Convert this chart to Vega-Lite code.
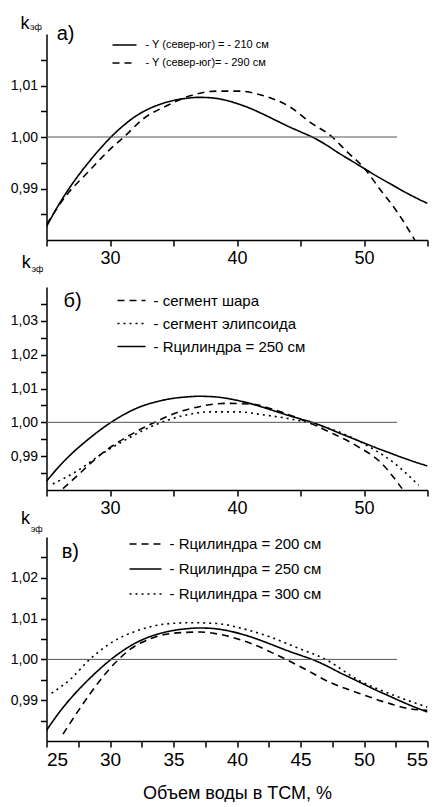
{
  "$schema": "https://vega.github.io/schema/vega-lite/v6.json",
  "background": "white",
  "padding": {"left": 9.5, "top": 14, "right": 4, "bottom": 0},
  "bounds": "flush",
  "spacing": 47,
  "resolve": {"scale": {"strokeDash": "independent"}, "legend": {"strokeDash": "independent"}},
  "config": {
    "view": {"stroke": null},
    "font": "Liberation Sans Narrow, Liberation Sans, sans-serif",
    "axis": {"grid": false, "domainColor": "black", "domainWidth": 1.5, "tickColor": "black", "tickWidth": 1.5, "labelColor": "black", "labelFont": "Liberation Sans Narrow, Liberation Sans, sans-serif", "titleFont": "Liberation Sans Narrow, Liberation Sans, sans-serif", "titleColor": "black", "titleFontWeight": "normal"},
    "legend": {"labelFont": "Liberation Sans Narrow, Liberation Sans, sans-serif", "labelColor": "black", "symbolType": "stroke", "symbolStrokeColor": "black", "symbolStrokeWidth": 1.6, "padding": 0, "labelLimit": 400},
    "text": {"font": "Liberation Sans, sans-serif", "color": "black", "align": "left", "baseline": "alphabetic"}
  },
  "datasets": {
    "curves": [
      {"p": "a", "s": "- Y (север-юг) = - 210 см", "x": 25, "y": 0.9826},
      {"p": "a", "s": "- Y (север-юг) = - 210 см", "x": 26, "y": 0.9870},
      {"p": "a", "s": "- Y (север-юг) = - 210 см", "x": 27, "y": 0.9908},
      {"p": "a", "s": "- Y (север-юг) = - 210 см", "x": 28, "y": 0.9941},
      {"p": "a", "s": "- Y (север-юг) = - 210 см", "x": 29, "y": 0.9971},
      {"p": "a", "s": "- Y (север-юг) = - 210 см", "x": 30, "y": 0.9998},
      {"p": "a", "s": "- Y (север-юг) = - 210 см", "x": 31, "y": 1.0021},
      {"p": "a", "s": "- Y (север-юг) = - 210 см", "x": 32, "y": 1.0040},
      {"p": "a", "s": "- Y (север-юг) = - 210 см", "x": 33, "y": 1.0054},
      {"p": "a", "s": "- Y (север-юг) = - 210 см", "x": 34, "y": 1.0064},
      {"p": "a", "s": "- Y (север-юг) = - 210 см", "x": 35, "y": 1.0071},
      {"p": "a", "s": "- Y (север-юг) = - 210 см", "x": 36, "y": 1.0075},
      {"p": "a", "s": "- Y (север-юг) = - 210 см", "x": 37, "y": 1.0077},
      {"p": "a", "s": "- Y (север-юг) = - 210 см", "x": 38, "y": 1.0076},
      {"p": "a", "s": "- Y (север-юг) = - 210 см", "x": 39, "y": 1.0072},
      {"p": "a", "s": "- Y (север-юг) = - 210 см", "x": 40, "y": 1.0065},
      {"p": "a", "s": "- Y (север-юг) = - 210 см", "x": 41, "y": 1.0056},
      {"p": "a", "s": "- Y (север-юг) = - 210 см", "x": 42, "y": 1.0045},
      {"p": "a", "s": "- Y (север-юг) = - 210 см", "x": 43, "y": 1.0033},
      {"p": "a", "s": "- Y (север-юг) = - 210 см", "x": 44, "y": 1.0021},
      {"p": "a", "s": "- Y (север-юг) = - 210 см", "x": 45, "y": 1.0010},
      {"p": "a", "s": "- Y (север-юг) = - 210 см", "x": 46, "y": 0.9999},
      {"p": "a", "s": "- Y (север-юг) = - 210 см", "x": 47, "y": 0.9985},
      {"p": "a", "s": "- Y (север-юг) = - 210 см", "x": 48, "y": 0.9969},
      {"p": "a", "s": "- Y (север-юг) = - 210 см", "x": 49, "y": 0.9954},
      {"p": "a", "s": "- Y (север-юг) = - 210 см", "x": 50, "y": 0.9939},
      {"p": "a", "s": "- Y (север-юг) = - 210 см", "x": 51, "y": 0.9924},
      {"p": "a", "s": "- Y (север-юг) = - 210 см", "x": 52, "y": 0.9910},
      {"p": "a", "s": "- Y (север-юг) = - 210 см", "x": 53, "y": 0.9896},
      {"p": "a", "s": "- Y (север-юг) = - 210 см", "x": 54, "y": 0.9883},
      {"p": "a", "s": "- Y (север-юг) = - 210 см", "x": 55, "y": 0.9871},

      {"p": "a", "s": "- Y (север-юг)= - 290 см", "x": 25, "y": 0.9830},
      {"p": "a", "s": "- Y (север-юг)= - 290 см", "x": 26.6, "y": 0.9888},
      {"p": "a", "s": "- Y (север-юг)= - 290 см", "x": 28.2, "y": 0.9930},
      {"p": "a", "s": "- Y (север-юг)= - 290 см", "x": 30, "y": 0.9976},
      {"p": "a", "s": "- Y (север-юг)= - 290 см", "x": 31.1, "y": 1.0000},
      {"p": "a", "s": "- Y (север-юг)= - 290 см", "x": 32.6, "y": 1.0035},
      {"p": "a", "s": "- Y (север-юг)= - 290 см", "x": 34.5, "y": 1.0061},
      {"p": "a", "s": "- Y (север-юг)= - 290 см", "x": 36.3, "y": 1.0080},
      {"p": "a", "s": "- Y (север-юг)= - 290 см", "x": 38.4, "y": 1.0089},
      {"p": "a", "s": "- Y (север-юг)= - 290 см", "x": 40.2, "y": 1.0089},
      {"p": "a", "s": "- Y (север-юг)= - 290 см", "x": 42.1, "y": 1.0080},
      {"p": "a", "s": "- Y (север-юг)= - 290 см", "x": 44.2, "y": 1.0058},
      {"p": "a", "s": "- Y (север-юг)= - 290 см", "x": 45.8, "y": 1.0028},
      {"p": "a", "s": "- Y (север-юг)= - 290 см", "x": 47.5, "y": 1.0000},
      {"p": "a", "s": "- Y (север-юг)= - 290 см", "x": 48.6, "y": 0.9973},
      {"p": "a", "s": "- Y (север-юг)= - 290 см", "x": 50, "y": 0.9940},
      {"p": "a", "s": "- Y (север-юг)= - 290 см", "x": 51.3, "y": 0.9897},
      {"p": "a", "s": "- Y (север-юг)= - 290 см", "x": 52.6, "y": 0.9855},
      {"p": "a", "s": "- Y (север-юг)= - 290 см", "x": 54, "y": 0.9800},

      {"p": "b", "s": "- сегмент шара", "x": 26.3, "y": 0.9804},
      {"p": "b", "s": "- сегмент шара", "x": 27.5, "y": 0.9845},
      {"p": "b", "s": "- сегмент шара", "x": 28.5, "y": 0.9880},
      {"p": "b", "s": "- сегмент шара", "x": 29.5, "y": 0.9912},
      {"p": "b", "s": "- сегмент шара", "x": 30.5, "y": 0.9938},
      {"p": "b", "s": "- сегмент шара", "x": 31.6, "y": 0.9963},
      {"p": "b", "s": "- сегмент шара", "x": 33.4, "y": 0.9998},
      {"p": "b", "s": "- сегмент шара", "x": 35.3, "y": 1.0029},
      {"p": "b", "s": "- сегмент шара", "x": 37.1, "y": 1.0047},
      {"p": "b", "s": "- сегмент шара", "x": 39, "y": 1.0056},
      {"p": "b", "s": "- сегмент шара", "x": 41.1, "y": 1.0054},
      {"p": "b", "s": "- сегмент шара", "x": 43.2, "y": 1.0034},
      {"p": "b", "s": "- сегмент шара", "x": 45.3, "y": 1.0005},
      {"p": "b", "s": "- сегмент шара", "x": 47.3, "y": 0.9971},
      {"p": "b", "s": "- сегмент шара", "x": 49.4, "y": 0.9931},
      {"p": "b", "s": "- сегмент шара", "x": 51.3, "y": 0.9882},
      {"p": "b", "s": "- сегмент шара", "x": 53, "y": 0.9804},

      {"p": "b", "s": "- сегмент элипсоида", "x": 25.5, "y": 0.9818},
      {"p": "b", "s": "- сегмент элипсоида", "x": 27.4, "y": 0.9856},
      {"p": "b", "s": "- сегмент элипсоида", "x": 29.2, "y": 0.9903},
      {"p": "b", "s": "- сегмент элипсоида", "x": 31.3, "y": 0.9950},
      {"p": "b", "s": "- сегмент элипсоида", "x": 33.4, "y": 0.9990},
      {"p": "b", "s": "- сегмент элипсоида", "x": 35.8, "y": 1.0020},
      {"p": "b", "s": "- сегмент элипсоида", "x": 37.9, "y": 1.0031},
      {"p": "b", "s": "- сегмент элипсоида", "x": 40, "y": 1.0031},
      {"p": "b", "s": "- сегмент элипсоида", "x": 42.1, "y": 1.0022},
      {"p": "b", "s": "- сегмент элипсоида", "x": 44.2, "y": 1.0010},
      {"p": "b", "s": "- сегмент элипсоида", "x": 46, "y": 0.9995},
      {"p": "b", "s": "- сегмент элипсоида", "x": 48.4, "y": 0.9966},
      {"p": "b", "s": "- сегмент элипсоида", "x": 50.5, "y": 0.9926},
      {"p": "b", "s": "- сегмент элипсоида", "x": 52.6, "y": 0.9873},
      {"p": "b", "s": "- сегмент элипсоида", "x": 54.3, "y": 0.9814},

      {"p": "b", "s": "- Rцилиндра = 250 см", "x": 25, "y": 0.9826},
      {"p": "b", "s": "- Rцилиндра = 250 см", "x": 26, "y": 0.9870},
      {"p": "b", "s": "- Rцилиндра = 250 см", "x": 27, "y": 0.9908},
      {"p": "b", "s": "- Rцилиндра = 250 см", "x": 28, "y": 0.9941},
      {"p": "b", "s": "- Rцилиндра = 250 см", "x": 29, "y": 0.9971},
      {"p": "b", "s": "- Rцилиндра = 250 см", "x": 30, "y": 0.9998},
      {"p": "b", "s": "- Rцилиндра = 250 см", "x": 31, "y": 1.0021},
      {"p": "b", "s": "- Rцилиндра = 250 см", "x": 32, "y": 1.0040},
      {"p": "b", "s": "- Rцилиндра = 250 см", "x": 33, "y": 1.0054},
      {"p": "b", "s": "- Rцилиндра = 250 см", "x": 34, "y": 1.0064},
      {"p": "b", "s": "- Rцилиндра = 250 см", "x": 35, "y": 1.0071},
      {"p": "b", "s": "- Rцилиндра = 250 см", "x": 36, "y": 1.0075},
      {"p": "b", "s": "- Rцилиндра = 250 см", "x": 37, "y": 1.0077},
      {"p": "b", "s": "- Rцилиндра = 250 см", "x": 38, "y": 1.0076},
      {"p": "b", "s": "- Rцилиндра = 250 см", "x": 39, "y": 1.0072},
      {"p": "b", "s": "- Rцилиндра = 250 см", "x": 40, "y": 1.0065},
      {"p": "b", "s": "- Rцилиндра = 250 см", "x": 41, "y": 1.0056},
      {"p": "b", "s": "- Rцилиндра = 250 см", "x": 42, "y": 1.0045},
      {"p": "b", "s": "- Rцилиндра = 250 см", "x": 43, "y": 1.0033},
      {"p": "b", "s": "- Rцилиндра = 250 см", "x": 44, "y": 1.0021},
      {"p": "b", "s": "- Rцилиндра = 250 см", "x": 45, "y": 1.0010},
      {"p": "b", "s": "- Rцилиндра = 250 см", "x": 46, "y": 0.9999},
      {"p": "b", "s": "- Rцилиндра = 250 см", "x": 47, "y": 0.9985},
      {"p": "b", "s": "- Rцилиндра = 250 см", "x": 48, "y": 0.9969},
      {"p": "b", "s": "- Rцилиндра = 250 см", "x": 49, "y": 0.9954},
      {"p": "b", "s": "- Rцилиндра = 250 см", "x": 50, "y": 0.9939},
      {"p": "b", "s": "- Rцилиндра = 250 см", "x": 51, "y": 0.9924},
      {"p": "b", "s": "- Rцилиндра = 250 см", "x": 52, "y": 0.9910},
      {"p": "b", "s": "- Rцилиндра = 250 см", "x": 53, "y": 0.9896},
      {"p": "b", "s": "- Rцилиндра = 250 см", "x": 54, "y": 0.9883},
      {"p": "b", "s": "- Rцилиндра = 250 см", "x": 55, "y": 0.9871},

      {"p": "c", "s": "- Rцилиндра = 200 см", "x": 26.3, "y": 0.9817},
      {"p": "c", "s": "- Rцилиндра = 200 см", "x": 27.7, "y": 0.9883},
      {"p": "c", "s": "- Rцилиндра = 200 см", "x": 29, "y": 0.9940},
      {"p": "c", "s": "- Rцилиндра = 200 см", "x": 30.3, "y": 0.9988},
      {"p": "c", "s": "- Rцилиндра = 200 см", "x": 31.6, "y": 1.0025},
      {"p": "c", "s": "- Rцилиндра = 200 см", "x": 33.4, "y": 1.0053},
      {"p": "c", "s": "- Rцилиндра = 200 см", "x": 35.3, "y": 1.0065},
      {"p": "c", "s": "- Rцилиндра = 200 см", "x": 37.1, "y": 1.0067},
      {"p": "c", "s": "- Rцилиндра = 200 см", "x": 39, "y": 1.0059},
      {"p": "c", "s": "- Rцилиндра = 200 см", "x": 41.1, "y": 1.0039},
      {"p": "c", "s": "- Rцилиндра = 200 см", "x": 43.2, "y": 1.0010},
      {"p": "c", "s": "- Rцилиндра = 200 см", "x": 45.3, "y": 0.9977},
      {"p": "c", "s": "- Rцилиндра = 200 см", "x": 47.3, "y": 0.9944},
      {"p": "c", "s": "- Rцилиндра = 200 см", "x": 49.7, "y": 0.9916},
      {"p": "c", "s": "- Rцилиндра = 200 см", "x": 52.1, "y": 0.9891},
      {"p": "c", "s": "- Rцилиндра = 200 см", "x": 53.6, "y": 0.9879},
      {"p": "c", "s": "- Rцилиндра = 200 см", "x": 55, "y": 0.9875},

      {"p": "c", "s": "- Rцилиндра = 250 см", "x": 25, "y": 0.9826},
      {"p": "c", "s": "- Rцилиндра = 250 см", "x": 26, "y": 0.9870},
      {"p": "c", "s": "- Rцилиндра = 250 см", "x": 27, "y": 0.9908},
      {"p": "c", "s": "- Rцилиндра = 250 см", "x": 28, "y": 0.9941},
      {"p": "c", "s": "- Rцилиндра = 250 см", "x": 29, "y": 0.9971},
      {"p": "c", "s": "- Rцилиндра = 250 см", "x": 30, "y": 0.9998},
      {"p": "c", "s": "- Rцилиндра = 250 см", "x": 31, "y": 1.0021},
      {"p": "c", "s": "- Rцилиндра = 250 см", "x": 32, "y": 1.0040},
      {"p": "c", "s": "- Rцилиндра = 250 см", "x": 33, "y": 1.0054},
      {"p": "c", "s": "- Rцилиндра = 250 см", "x": 34, "y": 1.0064},
      {"p": "c", "s": "- Rцилиндра = 250 см", "x": 35, "y": 1.0071},
      {"p": "c", "s": "- Rцилиндра = 250 см", "x": 36, "y": 1.0075},
      {"p": "c", "s": "- Rцилиндра = 250 см", "x": 37, "y": 1.0077},
      {"p": "c", "s": "- Rцилиндра = 250 см", "x": 38, "y": 1.0076},
      {"p": "c", "s": "- Rцилиндра = 250 см", "x": 39, "y": 1.0072},
      {"p": "c", "s": "- Rцилиндра = 250 см", "x": 40, "y": 1.0065},
      {"p": "c", "s": "- Rцилиндра = 250 см", "x": 41, "y": 1.0056},
      {"p": "c", "s": "- Rцилиндра = 250 см", "x": 42, "y": 1.0045},
      {"p": "c", "s": "- Rцилиндра = 250 см", "x": 43, "y": 1.0033},
      {"p": "c", "s": "- Rцилиндра = 250 см", "x": 44, "y": 1.0021},
      {"p": "c", "s": "- Rцилиндра = 250 см", "x": 45, "y": 1.0010},
      {"p": "c", "s": "- Rцилиндра = 250 см", "x": 46, "y": 0.9999},
      {"p": "c", "s": "- Rцилиндра = 250 см", "x": 47, "y": 0.9985},
      {"p": "c", "s": "- Rцилиндра = 250 см", "x": 48, "y": 0.9969},
      {"p": "c", "s": "- Rцилиндра = 250 см", "x": 49, "y": 0.9954},
      {"p": "c", "s": "- Rцилиндра = 250 см", "x": 50, "y": 0.9939},
      {"p": "c", "s": "- Rцилиндра = 250 см", "x": 51, "y": 0.9924},
      {"p": "c", "s": "- Rцилиндра = 250 см", "x": 52, "y": 0.9910},
      {"p": "c", "s": "- Rцилиндра = 250 см", "x": 53, "y": 0.9896},
      {"p": "c", "s": "- Rцилиндра = 250 см", "x": 54, "y": 0.9883},
      {"p": "c", "s": "- Rцилиндра = 250 см", "x": 55, "y": 0.9871},

      {"p": "c", "s": "- Rцилиндра = 300 см", "x": 25.4, "y": 0.9917},
      {"p": "c", "s": "- Rцилиндра = 300 см", "x": 26.9, "y": 0.9952},
      {"p": "c", "s": "- Rцилиндра = 300 см", "x": 28.4, "y": 1.0000},
      {"p": "c", "s": "- Rцилиндра = 300 см", "x": 30, "y": 1.0039},
      {"p": "c", "s": "- Rцилиндра = 300 см", "x": 32.1, "y": 1.0070},
      {"p": "c", "s": "- Rцилиндра = 300 см", "x": 34.2, "y": 1.0086},
      {"p": "c", "s": "- Rцилиндра = 300 см", "x": 36.3, "y": 1.0090},
      {"p": "c", "s": "- Rцилиндра = 300 см", "x": 38.4, "y": 1.0088},
      {"p": "c", "s": "- Rцилиндра = 300 см", "x": 40.5, "y": 1.0075},
      {"p": "c", "s": "- Rцилиндра = 300 см", "x": 42.6, "y": 1.0055},
      {"p": "c", "s": "- Rцилиндра = 300 см", "x": 44.7, "y": 1.0029},
      {"p": "c", "s": "- Rцилиндра = 300 см", "x": 47.1, "y": 0.9998},
      {"p": "c", "s": "- Rцилиндра = 300 см", "x": 49.4, "y": 0.9952},
      {"p": "c", "s": "- Rцилиндра = 300 см", "x": 52.1, "y": 0.9915},
      {"p": "c", "s": "- Rцилиндра = 300 см", "x": 55, "y": 0.9883}
    ]
  },
  "vconcat": [
    {
      "width": 381,
      "height": 206,
      "resolve": {"axis": {"x": "independent", "y": "independent"}},
      "layer": [
        {
          "data": {"name": "curves"},
          "transform": [{"filter": "datum.p === 'a'"}],
          "mark": {"type": "line", "interpolate": "monotone", "color": "black", "strokeWidth": 1.6, "clip": true},
          "encoding": {
            "x": {"field": "x", "type": "quantitative", "scale": {"domain": [25, 55], "nice": false, "zero": false},
                  "axis": {"title": null, "orient": "bottom", "values": [25, 30, 35, 40, 45, 50, 55], "labelExpr": "datum.value % 10 === 0 ? datum.label : ''", "labelFontSize": 18, "tickSize": 6, "labelPadding": 3}},
            "y": {"field": "y", "type": "quantitative", "scale": {"domain": [0.98, 1.02], "nice": false, "zero": false},
                  "axis": {"title": null, "orient": "left", "values": [0.985, 0.99, 0.995, 1.0, 1.005, 1.01, 1.015], "labelExpr": "abs(datum.value*100 - round(datum.value*100)) < 0.001 ? replace(format(datum.value, '.2f'), '.', ',') : ''", "labelFontSize": 14, "tickSize": 6, "labelPadding": 3}},
            "strokeDash": {"field": "s", "type": "nominal",
                           "scale": {"domain": ["- Y (север-юг) = - 210 см", "- Y (север-юг)= - 290 см"], "range": [[1, 0], [7, 5]]},
                           "legend": {"title": null, "orient": "none", "legendX": 65, "legendY": -2, "symbolSize": 576, "labelFontSize": 11, "labelOffset": 8, "rowPadding": -7.5}}
          }
        },
        {
          "data": {"values": [{}]},
          "mark": {"type": "rule", "color": "#555555", "strokeWidth": 1},
          "encoding": {"x": {"datum": 25, "type": "quantitative", "scale": {"domain": [25, 55], "nice": false, "zero": false}, "axis": null}, "x2": {"datum": 52.6}, "y": {"datum": 1.0, "type": "quantitative", "scale": {"domain": [0.98, 1.02], "nice": false, "zero": false}, "axis": null}}
        },
        {
          "data": {"values": [{}]},
          "mark": {"type": "text", "fontSize": 20},
          "encoding": {"x": {"datum": 25.8, "type": "quantitative", "scale": {"domain": [25, 55], "nice": false, "zero": false}, "axis": null}, "y": {"datum": 1.0189, "type": "quantitative", "scale": {"domain": [0.98, 1.02], "nice": false, "zero": false}, "axis": null}, "text": {"value": "а)"}}
        },
        {
          "data": {"values": [{}]},
          "mark": {"type": "text", "fontSize": 18},
          "encoding": {"x": {"datum": 22.95, "type": "quantitative", "scale": {"domain": [25, 55], "nice": false, "zero": false}, "axis": null}, "y": {"datum": 1.0210, "type": "quantitative", "scale": {"domain": [0.98, 1.02], "nice": false, "zero": false}, "axis": null}, "text": {"value": "k"}}
        },
        {
          "data": {"values": [{}]},
          "mark": {"type": "text", "fontSize": 9},
          "encoding": {"x": {"datum": 23.7, "type": "quantitative", "scale": {"domain": [25, 55], "nice": false, "zero": false}, "axis": null}, "y": {"datum": 1.0207, "type": "quantitative", "scale": {"domain": [0.98, 1.02], "nice": false, "zero": false}, "axis": null}, "text": {"value": "эф"}}
        }
      ]
    },
    {
      "width": 381,
      "height": 203,
      "resolve": {"axis": {"x": "independent", "y": "independent"}},
      "layer": [
        {
          "data": {"name": "curves"},
          "transform": [{"filter": "datum.p === 'b'"}],
          "mark": {"type": "line", "interpolate": "monotone", "color": "black", "strokeWidth": 1.6, "clip": true},
          "encoding": {
            "x": {"field": "x", "type": "quantitative", "scale": {"domain": [25, 55], "nice": false, "zero": false},
                  "axis": {"title": null, "orient": "bottom", "values": [25, 30, 35, 40, 45, 50, 55], "labelExpr": "datum.value % 10 === 0 ? datum.label : ''", "labelFontSize": 18, "tickSize": 6, "labelPadding": 3}},
            "y": {"field": "y", "type": "quantitative", "scale": {"domain": [0.98, 1.04], "nice": false, "zero": false},
                  "axis": {"title": null, "orient": "left", "values": [0.985, 0.99, 0.995, 1.0, 1.005, 1.01, 1.015, 1.02, 1.025, 1.03, 1.035], "labelExpr": "abs(datum.value*100 - round(datum.value*100)) < 0.001 ? replace(format(datum.value, '.2f'), '.', ',') : ''", "labelFontSize": 14, "tickSize": 6, "labelPadding": 3}},
            "strokeDash": {"field": "s", "type": "nominal",
                           "scale": {"domain": ["- сегмент шара", "- сегмент элипсоида", "- Rцилиндра = 250 см"], "range": [[7, 5], [2, 4], [1, 0]]},
                           "legend": {"title": null, "orient": "none", "legendX": 70, "legendY": -1.5, "symbolSize": 784, "labelFontSize": 15, "labelOffset": 7, "rowPadding": -10.5}}
          }
        },
        {
          "data": {"values": [{}]},
          "mark": {"type": "rule", "color": "#555555", "strokeWidth": 1},
          "encoding": {"x": {"datum": 25, "type": "quantitative", "scale": {"domain": [25, 55], "nice": false, "zero": false}, "axis": null}, "x2": {"datum": 52.6}, "y": {"datum": 1.0, "type": "quantitative", "scale": {"domain": [0.98, 1.04], "nice": false, "zero": false}, "axis": null}}
        },
        {
          "data": {"values": [{}]},
          "mark": {"type": "text", "fontSize": 20},
          "encoding": {"x": {"datum": 26.34, "type": "quantitative", "scale": {"domain": [25, 55], "nice": false, "zero": false}, "axis": null}, "y": {"datum": 1.0342, "type": "quantitative", "scale": {"domain": [0.98, 1.04], "nice": false, "zero": false}, "axis": null}, "text": {"value": "б)"}}
        },
        {
          "data": {"values": [{}]},
          "mark": {"type": "text", "fontSize": 18},
          "encoding": {"x": {"datum": 23.06, "type": "quantitative", "scale": {"domain": [25, 55], "nice": false, "zero": false}, "axis": null}, "y": {"datum": 1.0455, "type": "quantitative", "scale": {"domain": [0.98, 1.04], "nice": false, "zero": false}, "axis": null}, "text": {"value": "k"}}
        },
        {
          "data": {"values": [{}]},
          "mark": {"type": "text", "fontSize": 9},
          "encoding": {"x": {"datum": 23.81, "type": "quantitative", "scale": {"domain": [25, 55], "nice": false, "zero": false}, "axis": null}, "y": {"datum": 1.0443, "type": "quantitative", "scale": {"domain": [0.98, 1.04], "nice": false, "zero": false}, "axis": null}, "text": {"value": "эф"}}
        }
      ]
    },
    {
      "width": 381,
      "height": 204,
      "resolve": {"axis": {"x": "independent", "y": "independent"}},
      "layer": [
        {
          "data": {"name": "curves"},
          "transform": [{"filter": "datum.p === 'c'"}],
          "mark": {"type": "line", "interpolate": "monotone", "color": "black", "strokeWidth": 1.6, "clip": true},
          "encoding": {
            "x": {"field": "x", "type": "quantitative", "scale": {"domain": [25, 55], "nice": false, "zero": false},
                  "axis": {"title": "Объем воды в ТСМ, %", "orient": "bottom", "titleFontSize": 18, "titlePadding": 15, "values": [25, 27.5, 30, 32.5, 35, 37.5, 40, 42.5, 45, 47.5, 50, 52.5, 55], "labelExpr": "datum.value % 5 === 0 ? datum.label : ''", "labelFontSize": 19, "tickSize": 6, "labelPadding": 3}},
            "y": {"field": "y", "type": "quantitative", "scale": {"domain": [0.98, 1.03], "nice": false, "zero": false},
                  "axis": {"title": null, "orient": "left", "values": [0.985, 0.99, 0.995, 1.0, 1.005, 1.01, 1.015, 1.02, 1.025], "labelExpr": "abs(datum.value*100 - round(datum.value*100)) < 0.001 ? replace(format(datum.value, '.2f'), '.', ',') : ''", "labelFontSize": 14, "tickSize": 6, "labelPadding": 3}},
            "strokeDash": {"field": "s", "type": "nominal",
                           "scale": {"domain": ["- Rцилиндра = 200 см", "- Rцилиндра = 250 см", "- Rцилиндра = 300 см"], "range": [[7, 5], [1, 0], [2, 4]]},
                           "legend": {"title": null, "orient": "none", "legendX": 82, "legendY": -10, "symbolSize": 1024, "labelFontSize": 15, "labelOffset": 7, "rowPadding": -9}}
          }
        },
        {
          "data": {"values": [{}]},
          "mark": {"type": "rule", "color": "#555555", "strokeWidth": 1},
          "encoding": {"x": {"datum": 25, "type": "quantitative", "scale": {"domain": [25, 55], "nice": false, "zero": false}, "axis": null}, "x2": {"datum": 52.6}, "y": {"datum": 1.0, "type": "quantitative", "scale": {"domain": [0.98, 1.03], "nice": false, "zero": false}, "axis": null}}
        },
        {
          "data": {"values": [{}]},
          "mark": {"type": "text", "fontSize": 20},
          "encoding": {"x": {"datum": 26.2, "type": "quantitative", "scale": {"domain": [25, 55], "nice": false, "zero": false}, "axis": null}, "y": {"datum": 1.0249, "type": "quantitative", "scale": {"domain": [0.98, 1.03], "nice": false, "zero": false}, "axis": null}, "text": {"value": "в)"}}
        },
        {
          "data": {"values": [{}]},
          "mark": {"type": "text", "fontSize": 18},
          "encoding": {"x": {"datum": 23.0, "type": "quantitative", "scale": {"domain": [25, 55], "nice": false, "zero": false}, "axis": null}, "y": {"datum": 1.0332, "type": "quantitative", "scale": {"domain": [0.98, 1.03], "nice": false, "zero": false}, "axis": null}, "text": {"value": "k"}}
        },
        {
          "data": {"values": [{}]},
          "mark": {"type": "text", "fontSize": 9},
          "encoding": {"x": {"datum": 23.75, "type": "quantitative", "scale": {"domain": [25, 55], "nice": false, "zero": false}, "axis": null}, "y": {"datum": 1.0312, "type": "quantitative", "scale": {"domain": [0.98, 1.03], "nice": false, "zero": false}, "axis": null}, "text": {"value": "эф"}}
        }
      ]
    }
  ]
}
